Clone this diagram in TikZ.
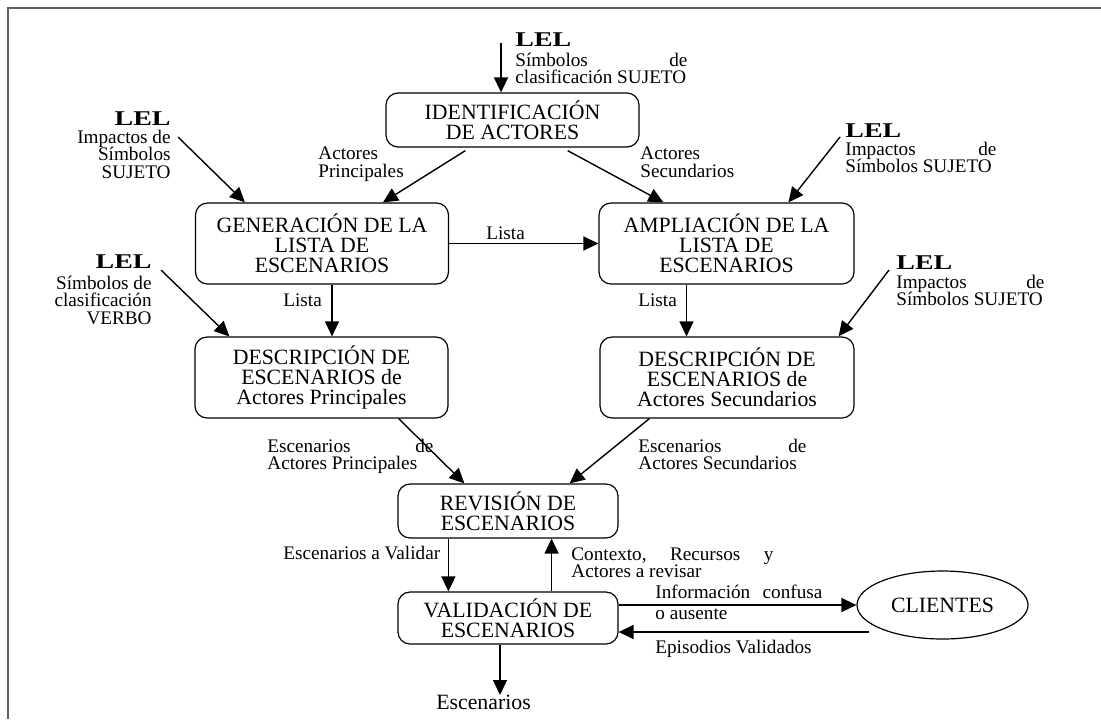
\documentclass[tikz,border=0pt]{standalone}
\usepackage{fontspec}
\setmainfont{Liberation Serif}
\newfontfamily\lelfamily{Liberation Serif}[FakeStretch=1.33]
\usetikzlibrary{arrows.meta,shapes.geometric}
\definecolor{framegray}{RGB}{96,96,96}
\newcommand{\boxfont}{\fontsize{10.9}{10}\selectfont}
\newcommand{\lblfont}{\fontsize{9.6}{8.75}\selectfont}
\newcommand{\LELmark}{{\lelfamily\bfseries\fontsize{10.5}{10}\selectfont LEL}}

\begin{document}
\begin{tikzpicture}[x=0.5pt,y=-0.5pt,
    proc/.style={draw,line width=0.6pt,rounded corners=6pt,align=center,
                 font=\boxfont,inner sep=0pt},
    lbl/.style={font=\lblfont,inner sep=0pt},
    flow/.style={line width=0.7pt,-{Triangle[length=7.5pt,width=7pt]}}]
  \useasboundingbox (0,0) rectangle (1101,719);
  \draw[framegray,line width=1pt] (1101,7.5) -- (8,7.5) -- (8,719);

  \node[proc,minimum width=126.5pt,minimum height=27pt]   (ID)  at (512.5,120)   {IDENTIFICACIÓN\\DE ACTORES};
  \node[proc,minimum width=126.5pt,minimum height=40.5pt] (GEN) at (322,243.5)   {GENERACIÓN DE LA\\LISTA DE\\ESCENARIOS};
  \node[proc,minimum width=127.5pt,minimum height=40.5pt] (AMP) at (726.5,243.5) {AMPLIACIÓN DE LA\\LISTA DE\\ESCENARIOS};
  \node[proc,minimum width=126.5pt,minimum height=40.5pt] (DP)  at (321.5,377.5) {DESCRIPCIÓN DE\\ESCENARIOS de\\Actores Principales};
  \node[proc,minimum width=127pt,minimum height=40.5pt]   (DS)  at (727,377.5)   {DESCRIPCIÓN DE\\ESCENARIOS de\\Actores Secundarios};
  \node[proc,minimum width=110pt,minimum height=27pt]     (REV) at (508,511)     {REVISIÓN DE\\ESCENARIOS};
  \node[proc,minimum width=110pt,minimum height=26pt]     (VAL) at (508,618)     {VALIDACIÓN DE\\ESCENARIOS};
  \node[draw,ellipse,line width=0.6pt,minimum width=85.5pt,minimum height=34pt,
        font=\boxfont,inner sep=0pt] (CLI) at (942.5,605) {CLIENTES};
  \node[font=\boxfont,inner sep=0pt,anchor=north] (OUT) at (483.5,695) {Escenarios};

  \node[lbl,anchor=base west,text width=86pt,align=justify] (L1) at (515,46)
        {\LELmark\\[1.25pt]Símbolos\hfill de\\clasificación~SUJETO};
  \node[lbl,anchor=base east,align=right] (L2) at (171,178)
        {\LELmark\\[0.25pt]Impactos de\\Símbolos\\SUJETO};
  \node[lbl,anchor=base west,text width=75.5pt,align=justify] (L3) at (845,137)
        {\LELmark\\[0.25pt]Impactos\hfill de\\Símbolos~SUJETO};
  \node[lbl,anchor=base east,align=right] (L4) at (152,324)
        {\LELmark\\[1.75pt]Símbolos de\\clasificación\\VERBO};
  \node[lbl,anchor=base west,text width=74pt,align=justify] (L5) at (896,269)
        {\LELmark\\[0.75pt]Impactos\hfill de\\Símbolos~SUJETO};
  \coordinate (L1s) at (501,43);
  \coordinate (L2s) at (178,137);
  \coordinate (L3s) at (840,137);
  \coordinate (L4s) at (161,270);
  \coordinate (L5s) at (889,270);

  \node[lbl,anchor=base west,align=left] (AP)  at (318,177) {Actores\\Principales};
  \node[lbl,anchor=base west,align=left] (AS)  at (640,177) {Actores\\Secundarios};
  \node[lbl,anchor=base west]            (LI1) at (486,239) {Lista};
  \node[lbl,anchor=base west]            (LI2) at (283,306) {Lista};
  \node[lbl,anchor=base west]            (LI3) at (638,306) {Lista};
  \node[lbl,anchor=base west,text width=83pt,align=justify] (EP) at (267,452)
        {Escenarios\hfill de\\Actores~Principales};
  \node[lbl,anchor=base west,text width=84pt,align=justify] (ES) at (638,452)
        {Escenarios\hfill de\\Actores~Secundarios};
  \node[lbl,anchor=base west]            (EV)  at (283,559) {Escenarios a Validar};
  \node[lbl,anchor=base west,text width=101pt,align=justify] (CR) at (571,560)
        {Contexto,\hfill Recursos\hfill y\\Actores~a~revisar};
  \node[lbl,anchor=base west,text width=83.5pt,align=justify] (IC) at (655,598)
        {Información\hfill confusa\\[2pt]o~ausente};
  \node[lbl,anchor=base west]            (EVd) at (655,653) {Episodios Validados};

  \draw[flow] (L1s) -- (L1s |- ID.north);
  \draw[flow] ([xshift=40pt,yshift=-1.5pt]ID.south west) -- ([xshift=94pt]GEN.north west);
  \draw[flow] ([xshift=-36pt,yshift=-1.5pt]ID.south east) -- ([xshift=32.5pt]AMP.north west);
  \draw[flow] (L2s) -- ([xshift=25pt]GEN.north west);
  \draw[flow] (L3s) -- ([xshift=95pt]AMP.north west);
  \draw[flow] (GEN.east) -- (AMP.west);
  \draw[flow] ([xshift=5pt]GEN.south) -- ([xshift=5pt]GEN.south |- DP.north);
  \draw[flow] ([xshift=-20pt]AMP.south) -- ([xshift=-20pt]AMP.south |- DS.north);
  \draw[flow] (L4s) -- ([xshift=17.5pt]DP.north west);
  \draw[flow] (L5s) -- ([xshift=-8pt]DS.north east);
  \draw[flow] ([xshift=-25pt]DP.south east) -- ([xshift=33.5pt]REV.north west);
  \draw[flow] ([xshift=25pt]DS.south west) -- ([xshift=-24.5pt]REV.north east);
  \draw[flow] ([xshift=25.5pt]REV.south west) -- ([xshift=25.5pt]REV.south west |- VAL.north);
  \draw[flow] ([xshift=-33.5pt]VAL.north east) -- ([xshift=-33.5pt]VAL.north east |- REV.south);
  \draw[flow] ([yshift=6.5pt]VAL.east) -- (CLI.west);
  \draw[flow] ([xshift=6.5pt,yshift=-13.5pt]CLI.west) -- ([yshift=-7pt]VAL.east);
  \draw[flow] ([xshift=-4pt]VAL.south) -- ([xshift=-4pt]VAL.south |- OUT.north);
\end{tikzpicture}
\end{document}
